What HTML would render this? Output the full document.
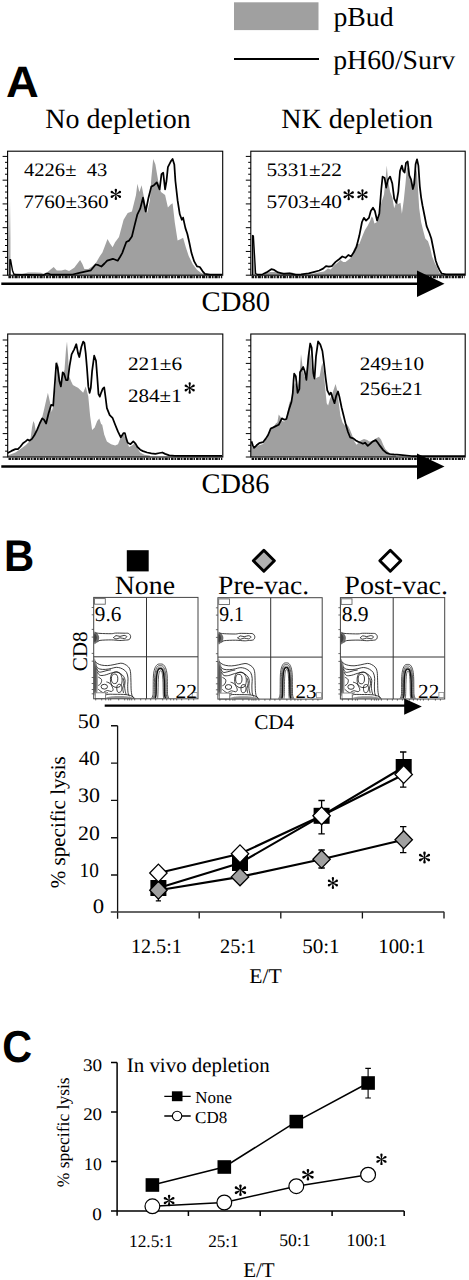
<!DOCTYPE html>
<html><head><meta charset="utf-8"><style>
html,body{margin:0;padding:0;background:#fff;width:469px;height:1280px;overflow:hidden}
svg{display:block}
text{font-family:"Liberation Serif",serif;fill:#000;text-rendering:geometricPrecision}
text.sb{font-weight:bold}
text.lbl{font-family:"Liberation Sans",sans-serif;font-weight:bold;stroke:none}
</style></head><body>
<svg width="469" height="1280" viewBox="0 0 469 1280">
<rect width="469" height="1280" fill="#fff"/>
<rect x="234" y="2.3" width="84.5" height="27.8" fill="#a0a0a0"/>
<line x1="234" y1="59" x2="319" y2="59" stroke="#000" stroke-width="2"/>
<defs><linearGradient id="gs" x1="0" y1="0" x2="0" y2="1"><stop offset="0" stop-color="#a0a0a0" stop-opacity="0"/><stop offset="0.5" stop-color="#a0a0a0" stop-opacity="0.8"/><stop offset="1" stop-color="#a0a0a0"/></linearGradient></defs>
<rect x="8.2" y="200" width="2.3" height="75.2" fill="url(#gs)"/>
<polygon points="12.8,275.2 12.8,274.2 20,274.5 28,272.4 35,272.6 41,272.8 44.8,274.2 51.2,269.1 53.7,267 56.8,270.4 61.4,270.4 65.2,269.6 69.1,271.1 74.2,267.8 78,262.7 80.1,260.1 82.4,264 84.4,269.1 88.3,269.1 92.1,266.5 96,262.7 99.8,256.3 102.4,252.5 104.9,246.1 107.5,238.9 110,243.5 112.6,247.3 115.1,242.2 119,237.1 123.6,219.8 127.7,212.9 131.9,211.5 136,194.9 137.4,183.8 139.4,192.1 141.6,185.2 144.3,199 147.1,212.9 149.9,200.4 151.3,178.3 153.2,158.9 155.4,164.4 158.2,181 161,192.1 165.1,194.9 167.9,207.4 170.7,204.6 172.6,203.2 174.8,222.6 177.6,240.6 180.4,239.2 183.1,237.8 185.9,247.5 188.7,255.9 192.8,264.2 197,269.7 201.2,273.1 205.3,274.5 205.3,275.2" fill="#a0a0a0"/>
<polyline points="15,274.6 43.5,275 46,273.7 48.6,273.7 51.2,274.7 66.5,274.7 72.6,274.5 78.4,273.2 86.1,271.3 90.9,270.3 95.7,264.5 98.5,265.2 101.4,266.5 104.5,263.5 107.2,260.7 112.9,258.8 117.7,260.7 120,257 122.2,253.1 126.3,242 129.1,240.6 131.9,236.5 134.6,225.4 137.4,214.3 140.2,208.7 143,197.7 144.3,204.6 145.7,211.5 148.5,197.7 151.3,186.6 154,185.2 156.8,182.4 159.6,189.3 161.5,174.1 163.2,172.7 165.1,189.3 166.5,181 167.9,167.2 170.7,161.6 172.6,158.9 174.3,164.4 175.4,181 177.6,200.4 179.8,214.3 181.8,219.8 183.1,217.6 185.4,228.1 187.3,233.7 189.2,242 191.5,253.1 194.2,261.4 197,266.4 199.8,267 202.5,271.1 204.8,273.9 210,274.6 222,274.6" fill="none" stroke="#000" stroke-width="1.75" stroke-linejoin="round"/>
<polyline points="9.9,275 9.9,259.8 10.6,259.8 11.5,265 12.5,270.5 13.8,274 15.5,274.6" fill="none" stroke="#000" stroke-width="1.4" stroke-linejoin="round"/>
<polygon points="252.4,275 252.4,235.6 253.4,236 255.8,275" fill="#a0a0a0"/>
<polygon points="264,275.2 264,274.6 266.5,273 270,272 275,272 279,273.2 284,272.6 292,272.6 298,274.4 310,274.6 318.3,272.4 324.1,271.5 327.9,268.6 330.8,269.5 333.7,265.7 337.5,262.8 340.4,260 343.3,261.9 345.5,261.9 351,257.8 353.8,249.5 356.5,244 359.3,244 362,237.1 364.8,230.3 367.5,226.1 370.3,220.6 371.6,216.5 373,217.9 374.4,223.4 377.1,222 379.3,215.1 381.3,202.8 384,194.5 385.4,180.8 386.8,165.6 388.1,180.8 390.1,191.8 392.3,197.3 394.2,208.3 396.4,201.4 398.3,204.1 400.5,202.8 401.9,213.8 403.8,200 405.5,183.5 406.8,168.4 408.2,167 410.1,178 412.1,186.3 414.3,176.6 415.6,167 417,172.5 419.2,208.3 421.1,222 423.1,230.3 425.3,238.5 428,241.3 430.2,248.1 432.1,256.4 434.9,263.3 437.6,268.8 439.6,272.9 441.8,274.3 441.8,275.2" fill="#a0a0a0"/>
<polyline points="257,274.6 262.7,274.3 266.5,272.4 271.3,269.2 274.2,269.9 278,272.4 283.8,273.8 289.5,273.4 295.3,274.7 301.1,274.3 308.7,273.4 314.5,271.8 319.3,270.5 323.1,268.6 326,266.1 328.9,266.7 331.8,266.1 335.6,261.9 339.4,259 342.3,256.5 345.5,257.8 348.3,255 351,256.4 353.8,252.3 356.5,246.8 359.3,235.8 362,222 363.9,217.9 366.1,220.6 368.9,217.9 370.8,211 373,207.7 374.9,211 377.1,220.6 379.3,213.8 381.3,189 382.6,176.6 384.6,178 386.2,187.6 388.1,179.4 390.1,176.6 392.3,183.5 394.2,198.6 396.4,202.8 398.3,191.8 400,171.1 401.9,165.6 403.3,171.1 404.6,172.5 406,162.9 407.7,161.5 409.3,175.3 411,179.4 412.9,189 414.3,183.5 415.6,164.3 417,159.3 418.4,165.6 419.8,186.3 421.1,197.3 422.5,205.5 424.7,216.5 426.6,226.1 429.4,233 431.3,238.5 433.5,249.5 435.7,260.5 437.6,266 439.6,270.1 441.8,273.7 446,274.4 465,274.4" fill="none" stroke="#000" stroke-width="1.75" stroke-linejoin="round"/>
<polyline points="252.5,275 252.5,235.5 253.4,235.8 255.6,273.4 257.2,274.6" fill="none" stroke="#000" stroke-width="1.3" stroke-linejoin="round"/>
<polygon points="7.7,457 7.7,455.5 15.4,452.4 20.5,449.1 25.6,445.3 29.4,441.4 30.7,437.6 32,427.4 33.3,421 34.5,423.5 35.8,431.2 38.4,427.4 40.9,422.2 43.5,412 46.1,400.5 47.9,392.8 49.9,401.8 51.7,412 53.7,404.3 55.8,383.9 57.6,360.8 58.9,369.8 60.1,381.3 61.4,383.9 63.2,373.6 64.5,369.8 66,349.3 67,341.6 68.1,355.7 69.1,376.2 71.1,381.3 72.9,385.1 75.5,386.4 78,387.7 80.6,390.3 83.2,392.8 85.7,386.4 88.3,396.6 90.1,415.8 92.1,429.9 94.7,427.4 97.2,421 99.3,418.4 101.1,424 102.2,424.8 104.2,434.5 106.9,441.4 111.1,444.2 115.2,445.6 118,444.2 120.8,437.3 123.6,434.5 126.3,440 129.1,447 131.9,445.6 134.6,443.6 137.4,448.3 140.2,452.5 144.3,454.7 149.9,455.6 149.9,457" fill="#a0a0a0"/>
<polyline points="7.7,452.9 11.5,450.9 15.4,449.1 17.9,449.1 20.5,446.5 23,443.2 25.6,441.4 27.6,439.6 29.4,440.7 32,438.9 34.5,435 37.1,429.9 39.7,423.5 42.2,418.4 44,419.7 46.1,423.5 48.6,413.3 51.2,404.8 53.2,405.6 55,381.3 56.3,363.4 57.6,367.2 59.4,381.3 60.9,386.4 62.7,372.3 64,373.6 66,380 67.8,380 69.6,365.9 71.6,354.4 74.2,349.3 76.3,344.2 78,353.1 79.3,357 81.4,346.8 83.2,341.6 84.4,342.9 85.7,353.1 87,368.5 88.3,386.4 89.6,392.8 90.8,387.7 92.1,371.1 94.2,355.7 96,360.8 97.2,376.2 98.5,394.1 99.8,396.6 101.1,392.8 102.8,388.7 104.2,387.4 105.5,397 106.9,408.1 109.7,415.1 112.5,417.8 115.2,424.8 118,431.7 120.8,437.3 123.6,433.1 124.9,433.1 126.3,438.6 127.7,442.8 130.5,444.2 133.3,441.4 135.5,443.6 137.4,447 140.2,449.7 143,451.1 147.1,452.5 151.3,453.3 155.4,453.9 159.6,453 162.4,452.5 165.1,453.9 169.3,455.3 174.8,455.8 222,455.8" fill="none" stroke="#000" stroke-width="1.75" stroke-linejoin="round"/>
<polygon points="250.7,457 250.7,437.6 252.8,447.8 255.4,446.5 259.2,445.3 263,444 265.6,440.1 268.1,435 270.7,429.9 273.3,427.4 275.8,423.5 277.4,422.2 278.7,414.5 280.6,417.1 281.9,421 284.4,421.5 286.4,418.4 289,404.3 290.2,400.5 291.5,403 292.5,392.8 295,382.6 297.6,387.7 299.4,377.5 301,354 302.6,367 304.3,376.6 306,377.6 307.5,360.6 309,350 310.7,356.3 312.4,373.4 313.9,379.8 317.1,377.6 319.6,376.6 321.3,367 322.4,362.7 323.9,372.3 325.2,388.3 326.7,403.2 328.1,405.4 329.9,399 332,394.7 334.1,388.3 335.6,384 337.3,390.4 338.8,403.2 340.5,416 342.6,422.4 344.8,425.6 346.9,424.6 348.6,426.7 350.1,429.9 352.2,435.2 354.4,441.6 356.5,444.8 358.6,442.7 360.8,440.5 364,439.1 367.2,439.9 369.3,441.6 372.5,441.2 375.7,438.4 378.9,436.9 381,439.5 383.2,444.8 385.3,449.1 388.5,452.3 391.7,454 396,455.6 396,457" fill="#a0a0a0"/>
<polyline points="251.5,441.4 252.8,445.3 254.1,447.8 256.6,445.3 259.2,443.2 263,442.2 265.6,438.9 268.1,435 270.7,428.6 273.3,427.4 275.8,426.1 278.7,424.8 281.9,418.4 284.4,419.7 286.4,419 289,409.4 291.5,401.7 292.8,392.8 293.6,380 294.2,373.6 295.8,376.2 297.6,392.8 299.4,389 300,372.3 303.2,367 304.7,371.2 306.4,379.8 308.5,356.3 310.2,343.5 311.7,347.8 313.2,373.4 314.5,378.7 316,356.3 318.1,341.4 320.3,344.6 322.4,351 323.9,362.7 325.6,377.6 327.3,390.4 329.4,394.7 330.9,392.6 333,399 334.5,403.2 336.2,395.8 338,391.5 339.4,396.8 341.6,407.5 343.7,416 345.8,424.6 348,432 350.1,437.3 353.3,438.4 355.9,440.5 358,441.6 360.8,442.7 362.9,443.7 365,442.7 367.8,445.9 370.4,443.7 372.5,441.6 375.7,440.1 377.8,442.7 380,445.9 383.2,450.1 386.4,452.9 389.6,454 393.8,454.4 400,454.8 411.5,456 465,456" fill="none" stroke="#000" stroke-width="1.75" stroke-linejoin="round"/>
<path d="M2.6,275.2h5M5,269.26h2.6M5,263.32h2.6M5,257.38h2.6M2.6,251.44h5M5,245.5h2.6M5,239.56h2.6M5,233.62h2.6M2.6,227.68h5M5,221.74h2.6M5,215.8h2.6M5,209.86h2.6M2.6,203.92h5M5,197.98h2.6M5,192.04h2.6M5,186.1h2.6M2.6,180.16h5M5,174.22h2.6M5,168.28h2.6M5,162.34h2.6M2.6,156.4h5" stroke="#000" stroke-width="1" fill="none"/>
<line x1="8.4" y1="277" x2="222.2" y2="277" stroke="#111" stroke-width="2.3" stroke-dasharray="2.6 0.8 1.8 0.9 3.2 0.7 1.5 1"/>
<rect x="7.6" y="151.2" width="215.1" height="124" fill="none" stroke="#000" stroke-width="1.1"/>
<path d="M245.8,275.2h5M248.2,269.26h2.6M248.2,263.32h2.6M248.2,257.38h2.6M245.8,251.44h5M248.2,245.5h2.6M248.2,239.56h2.6M248.2,233.62h2.6M245.8,227.68h5M248.2,221.74h2.6M248.2,215.8h2.6M248.2,209.86h2.6M245.8,203.92h5M248.2,197.98h2.6M248.2,192.04h2.6M248.2,186.1h2.6M245.8,180.16h5M248.2,174.22h2.6M248.2,168.28h2.6M248.2,162.34h2.6M245.8,156.4h5" stroke="#000" stroke-width="1" fill="none"/>
<line x1="251.6" y1="277" x2="464.7" y2="277" stroke="#111" stroke-width="2.3" stroke-dasharray="2.6 0.8 1.8 0.9 3.2 0.7 1.5 1"/>
<rect x="250.8" y="151.2" width="214.4" height="124" fill="none" stroke="#000" stroke-width="1.1"/>
<path d="M2.7,457h5M5.1,451.15h2.6M5.1,445.3h2.6M5.1,439.45h2.6M2.7,433.6h5M5.1,427.75h2.6M5.1,421.9h2.6M5.1,416.05h2.6M2.7,410.2h5M5.1,404.35h2.6M5.1,398.5h2.6M5.1,392.65h2.6M2.7,386.8h5M5.1,380.95h2.6M5.1,375.1h2.6M5.1,369.25h2.6M2.7,363.4h5M5.1,357.55h2.6M5.1,351.7h2.6M5.1,345.85h2.6M2.7,340h5" stroke="#000" stroke-width="1" fill="none"/>
<line x1="8.5" y1="458.8" x2="222.3" y2="458.8" stroke="#111" stroke-width="2.3" stroke-dasharray="2.6 0.8 1.8 0.9 3.2 0.7 1.5 1"/>
<rect x="7.7" y="334" width="215.1" height="123" fill="none" stroke="#000" stroke-width="1.1"/>
<path d="M245.8,457h5M248.2,451.15h2.6M248.2,445.3h2.6M248.2,439.45h2.6M245.8,433.6h5M248.2,427.75h2.6M248.2,421.9h2.6M248.2,416.05h2.6M245.8,410.2h5M248.2,404.35h2.6M248.2,398.5h2.6M248.2,392.65h2.6M245.8,386.8h5M248.2,380.95h2.6M248.2,375.1h2.6M248.2,369.25h2.6M245.8,363.4h5M248.2,357.55h2.6M248.2,351.7h2.6M248.2,345.85h2.6M245.8,340h5" stroke="#000" stroke-width="1" fill="none"/>
<line x1="251.6" y1="458.8" x2="464.7" y2="458.8" stroke="#111" stroke-width="2.3" stroke-dasharray="2.6 0.8 1.8 0.9 3.2 0.7 1.5 1"/>
<rect x="250.8" y="334" width="214.4" height="123" fill="none" stroke="#000" stroke-width="1.1"/>
<line x1="1.3" y1="283.8" x2="419" y2="283.8" stroke="#000" stroke-width="2.6"/><polygon points="417,270.55 444.5,283.8 417,297.05" fill="#000"/>
<line x1="1.3" y1="466.5" x2="419" y2="466.5" stroke="#000" stroke-width="2.6"/><polygon points="417,453.5 444.5,466.5 417,479.5" fill="#000"/>
<g transform="translate(0,0)">
<path d="M94.3,632.3C94.63,630.52 95.62,632.35 96.3,632.8C96.98,633.25 97.92,634.17 98.4,635C98.88,635.83 99.22,636.8 99.2,637.8C99.18,638.8 98.8,640.13 98.3,641C97.8,641.87 96.87,642.58 96.2,643C95.53,643.42 94.62,645.28 94.3,643.5C93.98,641.72 93.97,634.08 94.3,632.3Z" fill="#555" opacity="0.85"/>
<path d="M94.3,634C94.55,632.83 95.38,634.17 95.8,634.8C96.22,635.43 96.8,636.77 96.8,637.8C96.8,638.83 96.22,640.33 95.8,641C95.38,641.67 94.55,642.97 94.3,641.8C94.05,640.63 94.05,635.17 94.3,634Z" fill="#222" opacity="0.6"/>
<path d="M94.3,660.5C94.55,655.25 95.3,660.92 95.8,662C96.3,663.08 96.97,664 97.3,667C97.63,670 97.8,675.83 97.8,680C97.8,684.17 97.88,689.75 97.3,692C96.72,694.25 94.8,698.75 94.3,693.5C93.8,688.25 94.05,665.75 94.3,660.5Z" fill="#666" opacity="0.75"/>
<path d="M94.3,663C94.47,658.58 94.98,663.33 95.3,664.5C95.62,665.67 96.02,667.42 96.2,670C96.38,672.58 96.43,676.67 96.4,680C96.37,683.33 96.35,688.17 96,690C95.65,691.83 94.58,695.5 94.3,691C94.02,686.5 94.13,667.42 94.3,663Z" fill="#333" opacity="0.6"/>
<path d="M95.5,632.8C96.25,632.9 97.37,633.25 100,633.4C102.63,633.55 108.7,633.75 111.3,633.7C113.9,633.65 113.48,633.18 115.6,633.1C117.72,633.02 121.83,633.13 124,633.2C126.17,633.27 127.5,632.98 128.6,633.5C129.7,634.02 130.5,635.3 130.6,636.3C130.7,637.3 130.3,638.85 129.2,639.5C128.1,640.15 125.55,640.03 124,640.2C122.45,640.37 122.02,640.55 119.9,640.5C117.78,640.45 114.62,639.92 111.3,639.9C107.98,639.88 102.3,640.02 100,640.4C97.7,640.78 97.92,641.9 97.5,642.2" fill="none" stroke="#1a1a1a" stroke-width="0.85"/>
<path d="M113.6,637.6C114,637.27 114.93,635.8 116,635.6C117.07,635.4 118.67,636.43 120,636.4C121.33,636.37 122.87,635.37 124,635.4C125.13,635.43 126.72,636.07 126.8,636.6C126.88,637.13 125.63,638.4 124.5,638.6C123.37,638.8 121.42,637.73 120,637.8C118.58,637.87 117.07,639.03 116,639C114.93,638.97 114,637.83 113.6,637.6C113.2,637.37 113.2,637.93 113.6,637.6Z" fill="none" stroke="#1a1a1a" stroke-width="0.85"/>
<path d="M94.9,661.3C95.38,661.7 96.68,663.07 97.8,663.7C98.92,664.33 100,664.78 101.6,665.1C103.2,665.42 105.32,665.68 107.4,665.6C109.48,665.52 111.87,665 114.1,664.6C116.33,664.2 119.05,663.27 120.8,663.2C122.55,663.13 123.32,663.57 124.6,664.2C125.88,664.83 127.53,665.8 128.5,667C129.47,668.2 130,669.23 130.4,671.4C130.8,673.57 130.77,676.82 130.9,680C131.03,683.18 130.97,687.78 131.2,690.5C131.43,693.22 131.8,695.02 132.3,696.3C132.8,697.58 133.88,697.88 134.2,698.2" fill="none" stroke="#1a1a1a" stroke-width="0.85"/>
<path d="M96.3,666.6C96.87,667 98.18,668.53 99.7,669C101.22,669.47 103.48,669.48 105.4,669.4C107.32,669.32 109.6,668.82 111.2,668.5C112.8,668.18 113.8,667.67 115,667.5C116.2,667.33 117.12,667.25 118.4,667.5C119.68,667.75 121.35,668.2 122.7,669C124.05,669.8 125.62,670.78 126.5,672.3C127.38,673.82 127.8,676.02 128,678.1C128.2,680.18 127.7,682.4 127.7,684.8C127.7,687.2 127.72,690.58 128,692.5C128.28,694.42 129.17,695.67 129.4,696.3" fill="none" stroke="#1a1a1a" stroke-width="0.85"/>
<path d="M97.3,671.8C97.7,672.37 98.5,674.63 99.7,675.2C100.9,675.77 102.98,675.43 104.5,675.2C106.02,674.97 107.52,674.2 108.8,673.8C110.08,673.4 110.83,673.13 112.2,672.8C113.57,672.47 115.57,671.63 117,671.8C118.43,671.97 119.68,673 120.8,673.8C121.92,674.6 122.98,675.48 123.7,676.6C124.42,677.72 124.95,678.97 125.1,680.5C125.25,682.03 124.6,684.13 124.6,685.8C124.6,687.47 124.85,689.07 125.1,690.5C125.35,691.93 125.93,693.75 126.1,694.4" fill="none" stroke="#1a1a1a" stroke-width="0.85"/>
<path d="M110.5,678C110.72,676.17 111.25,673.93 112.5,673C113.75,672.07 116.5,671.9 118,672.4C119.5,672.9 120.83,674.4 121.5,676C122.17,677.6 122.25,680.25 122,682C121.75,683.75 121.17,685.63 120,686.5C118.83,687.37 116.47,687.62 115,687.2C113.53,686.78 111.95,685.53 111.2,684C110.45,682.47 110.28,679.83 110.5,678Z" fill="none" stroke="#1a1a1a" stroke-width="0.85"/>
<ellipse cx="114.6" cy="678.8" rx="3.2" ry="4.8" fill="none" stroke="#1a1a1a" stroke-width="0.85"/>
<ellipse cx="104.3" cy="686.7" rx="3.2" ry="2.4" fill="none" stroke="#1a1a1a" stroke-width="0.85"/>
<path d="M106.4,681.9C106.83,682.05 108.2,682.32 109,682.8C109.8,683.28 110.52,683.67 111.2,684.8C111.88,685.93 113.1,688.48 113.1,689.6C113.1,690.72 112.15,691.35 111.2,691.5C110.25,691.65 108.6,690.42 107.4,690.5C106.2,690.58 104.57,691.75 104,692" fill="none" stroke="#1a1a1a" stroke-width="0.85"/>
<path d="M117.5,685C118.12,684.25 119.78,684.08 120.5,684.5C121.22,684.92 121.72,686.33 121.8,687.5C121.88,688.67 121.63,690.7 121,691.5C120.37,692.3 118.7,692.72 118,692.3C117.3,691.88 116.88,690.22 116.8,689C116.72,687.78 116.88,685.75 117.5,685Z" fill="none" stroke="#1a1a1a" stroke-width="0.85"/>
<path d="M98.2,677C98.75,677.42 101.07,678.42 101.5,679.5C101.93,680.58 101.35,682.5 100.8,683.5C100.25,684.5 98.63,685.17 98.2,685.5" fill="none" stroke="#1a1a1a" stroke-width="0.85"/>
<path d="M96.5,668.5C96.92,669.08 97.92,671.48 99,672C100.08,672.52 101.67,671.85 103,671.6C104.33,671.35 105.67,670.8 107,670.5C108.33,670.2 110.33,669.92 111,669.8" fill="none" stroke="#1a1a1a" stroke-width="0.85"/>
<path d="M98,689C98.5,689.42 99.92,690.8 101,691.5C102.08,692.2 103.33,693.02 104.5,693.2C105.67,693.38 107.42,692.7 108,692.6" fill="none" stroke="#1a1a1a" stroke-width="0.85"/>
<path d="M123,678C123.17,678.83 124.03,681.33 124,683C123.97,684.67 122.88,686.33 122.8,688C122.72,689.67 123.38,692.17 123.5,693" fill="none" stroke="#1a1a1a" stroke-width="0.85"/>
<path d="M105.4,698.4C105.58,697.77 104.9,695.28 106.5,694.6C108.1,693.92 111.75,694.3 115,694.3C118.25,694.3 123.17,694.28 126,694.6C128.83,694.92 130.57,695.58 132,696.2C133.43,696.82 134.17,697.95 134.6,698.3" fill="none" stroke="#1a1a1a" stroke-width="0.85"/>
<path d="M107,698.4C103.42,698.05 108.83,696.67 112,696.3C115.17,695.93 122.42,695.85 126,696.2C129.58,696.55 136.67,698.03 133.5,698.4C130.33,698.77 110.58,698.75 107,698.4Z" fill="#555" opacity="0.6"/>
<rect x="95.3" y="692.8" width="10.2" height="5.9" fill="#fff" stroke="#777" stroke-width="0.8"/>
<path d="M151.7,698.3C151.92,697.72 152.75,696.63 153,694.8C153.25,692.97 153.13,690.43 153.2,687.3C153.27,684.17 153.18,679.05 153.41,676C153.65,672.95 154,670.87 154.62,669C155.24,667.13 156.16,665.63 157.11,664.8C158.05,663.97 159.24,664 160.3,664C161.37,664 162.55,663.97 163.5,664.8C164.44,665.63 165.36,667.13 165.98,669C166.6,670.87 166.95,672.95 167.19,676C167.42,679.05 167.33,684.17 167.4,687.3C167.47,690.43 167.35,692.97 167.6,694.8C167.85,696.63 168.68,697.72 168.9,698.3" fill="none" stroke="#222" stroke-width="0.8"/>
<path d="M152.9,698.3C153.12,697.72 153.95,696.63 154.2,694.8C154.45,692.97 154.34,690.17 154.4,687.3C154.46,684.43 154.38,680.38 154.58,677.6C154.77,674.82 155.07,672.47 155.58,670.6C156.09,668.73 156.86,667.23 157.65,666.4C158.43,665.57 159.42,665.6 160.3,665.6C161.19,665.6 162.17,665.57 162.96,666.4C163.74,667.23 164.51,668.73 165.02,670.6C165.53,672.47 165.83,674.82 166.02,677.6C166.22,680.38 166.14,684.43 166.2,687.3C166.26,690.17 166.15,692.97 166.4,694.8C166.65,696.63 167.48,697.72 167.7,698.3" fill="none" stroke="#333" stroke-width="0.8"/>
<path d="M153.8,698.3C154.02,697.72 154.85,696.63 155.1,694.8C155.35,692.97 155.24,689.9 155.3,687.3C155.36,684.7 155.28,681.72 155.45,679.2C155.62,676.68 155.87,674.07 156.3,672.2C156.73,670.33 157.38,668.83 158.05,668C158.72,667.17 159.55,667.2 160.3,667.2C161.05,667.2 161.88,667.17 162.55,668C163.22,668.83 163.87,670.33 164.3,672.2C164.73,674.07 164.98,676.68 165.15,679.2C165.32,681.72 165.24,684.7 165.3,687.3C165.36,689.9 165.25,692.97 165.5,694.8C165.75,696.63 166.58,697.72 166.8,698.3" fill="none" stroke="#444" stroke-width="0.7"/>
<path d="M155.2,698.3C155.33,697.72 155.83,696.63 156,694.8C156.17,692.97 156.15,689.67 156.2,687.3C156.25,684.93 156.19,682.88 156.32,680.6C156.46,678.32 156.66,675.47 157.02,673.6C157.38,671.73 157.91,670.23 158.46,669.4C159,668.57 159.69,668.6 160.3,668.6C160.92,668.6 161.6,668.57 162.15,669.4C162.69,670.23 163.22,671.73 163.58,673.6C163.94,675.47 164.14,678.32 164.28,680.6C164.41,682.88 164.35,684.93 164.4,687.3C164.45,689.67 164.43,692.97 164.6,694.8C164.77,696.63 165.27,697.72 165.4,698.3" fill="none" stroke="#111" stroke-width="1.5"/>
<path d="M157.6,698.3C157.65,697.72 157.82,696.63 157.9,694.8C157.98,692.97 158.05,689.3 158.1,687.3C158.15,685.3 158.09,684.72 158.18,682.8C158.26,680.88 158.38,677.67 158.6,675.8C158.82,673.93 159.14,672.43 159.48,671.6C159.81,670.77 160.23,670.8 160.6,670.8C160.98,670.8 161.39,670.77 161.73,671.6C162.06,672.43 162.38,673.93 162.6,675.8C162.82,677.67 162.94,680.88 163.03,682.8C163.11,684.72 163.05,685.3 163.1,687.3C163.15,689.3 163.22,692.97 163.3,694.8C163.38,696.63 163.55,697.72 163.6,698.3" fill="none" stroke="#333" stroke-width="0.8"/>
</g>
<path d="M146.5,597.4v101.4 M93.7,656.8h104.3" stroke="#333" stroke-width="1" fill="none"/>
<rect x="93.7" y="597.4" width="104.3" height="101.4" fill="none" stroke="#444" stroke-width="1"/>
<rect x="94.5" y="598.6" width="10.8" height="5.6" fill="#fff" stroke="#666" stroke-width="0.9"/>
<rect x="192.2" y="692.4" width="5" height="5" fill="#fff" stroke="#888" stroke-width="0.8"/>
<path d="M91.7,607.5h2M91.7,614.8h2M91.7,629.4h2M91.7,637.1h2M91.7,653.4h2M91.7,661.2h2M91.7,677.5h2M91.7,683.5h2M91.7,689.5h2M91.7,693.8h2M95.7,698.8v1.6M101.7,698.8v1.6M105.7,698.8v1.6M108.7,698.8v1.6M110.7,698.8v1.6M118.7,698.8v1.6M124.7,698.8v1.6M127.7,698.8v1.6M129.7,698.8v1.6M131.7,698.8v1.6M134.7,698.8v1.6M140.7,698.8v1.6M145.7,698.8v1.6M150.7,698.8v1.6M155.7,698.8v1.6M162.7,698.8v1.6M166.7,698.8v1.6M170.7,698.8v1.6M173.7,698.8v1.6M176.7,698.8v1.6M181.7,698.8v1.6M188.7,698.8v1.6M193.7,698.8v1.6" stroke="#444" stroke-width="0.8" fill="none"/>
<g transform="translate(124.2,0.3)">
<path d="M94.3,632.3C94.63,630.52 95.62,632.35 96.3,632.8C96.98,633.25 97.92,634.17 98.4,635C98.88,635.83 99.22,636.8 99.2,637.8C99.18,638.8 98.8,640.13 98.3,641C97.8,641.87 96.87,642.58 96.2,643C95.53,643.42 94.62,645.28 94.3,643.5C93.98,641.72 93.97,634.08 94.3,632.3Z" fill="#555" opacity="0.85"/>
<path d="M94.3,634C94.55,632.83 95.38,634.17 95.8,634.8C96.22,635.43 96.8,636.77 96.8,637.8C96.8,638.83 96.22,640.33 95.8,641C95.38,641.67 94.55,642.97 94.3,641.8C94.05,640.63 94.05,635.17 94.3,634Z" fill="#222" opacity="0.6"/>
<path d="M94.3,660.5C94.55,655.25 95.3,660.92 95.8,662C96.3,663.08 96.97,664 97.3,667C97.63,670 97.8,675.83 97.8,680C97.8,684.17 97.88,689.75 97.3,692C96.72,694.25 94.8,698.75 94.3,693.5C93.8,688.25 94.05,665.75 94.3,660.5Z" fill="#666" opacity="0.75"/>
<path d="M94.3,663C94.47,658.58 94.98,663.33 95.3,664.5C95.62,665.67 96.02,667.42 96.2,670C96.38,672.58 96.43,676.67 96.4,680C96.37,683.33 96.35,688.17 96,690C95.65,691.83 94.58,695.5 94.3,691C94.02,686.5 94.13,667.42 94.3,663Z" fill="#333" opacity="0.6"/>
<path d="M95.5,632.8C96.25,632.9 97.37,633.25 100,633.4C102.63,633.55 108.7,633.75 111.3,633.7C113.9,633.65 113.48,633.18 115.6,633.1C117.72,633.02 121.83,633.13 124,633.2C126.17,633.27 127.5,632.98 128.6,633.5C129.7,634.02 130.5,635.3 130.6,636.3C130.7,637.3 130.3,638.85 129.2,639.5C128.1,640.15 125.55,640.03 124,640.2C122.45,640.37 122.02,640.55 119.9,640.5C117.78,640.45 114.62,639.92 111.3,639.9C107.98,639.88 102.3,640.02 100,640.4C97.7,640.78 97.92,641.9 97.5,642.2" fill="none" stroke="#1a1a1a" stroke-width="0.85"/>
<path d="M113.6,637.6C114,637.27 114.93,635.8 116,635.6C117.07,635.4 118.67,636.43 120,636.4C121.33,636.37 122.87,635.37 124,635.4C125.13,635.43 126.72,636.07 126.8,636.6C126.88,637.13 125.63,638.4 124.5,638.6C123.37,638.8 121.42,637.73 120,637.8C118.58,637.87 117.07,639.03 116,639C114.93,638.97 114,637.83 113.6,637.6C113.2,637.37 113.2,637.93 113.6,637.6Z" fill="none" stroke="#1a1a1a" stroke-width="0.85"/>
<path d="M94.9,661.3C95.38,661.7 96.68,663.07 97.8,663.7C98.92,664.33 100,664.78 101.6,665.1C103.2,665.42 105.32,665.68 107.4,665.6C109.48,665.52 111.87,665 114.1,664.6C116.33,664.2 119.05,663.27 120.8,663.2C122.55,663.13 123.32,663.57 124.6,664.2C125.88,664.83 127.53,665.8 128.5,667C129.47,668.2 130,669.23 130.4,671.4C130.8,673.57 130.77,676.82 130.9,680C131.03,683.18 130.97,687.78 131.2,690.5C131.43,693.22 131.8,695.02 132.3,696.3C132.8,697.58 133.88,697.88 134.2,698.2" fill="none" stroke="#1a1a1a" stroke-width="0.85"/>
<path d="M96.3,666.6C96.87,667 98.18,668.53 99.7,669C101.22,669.47 103.48,669.48 105.4,669.4C107.32,669.32 109.6,668.82 111.2,668.5C112.8,668.18 113.8,667.67 115,667.5C116.2,667.33 117.12,667.25 118.4,667.5C119.68,667.75 121.35,668.2 122.7,669C124.05,669.8 125.62,670.78 126.5,672.3C127.38,673.82 127.8,676.02 128,678.1C128.2,680.18 127.7,682.4 127.7,684.8C127.7,687.2 127.72,690.58 128,692.5C128.28,694.42 129.17,695.67 129.4,696.3" fill="none" stroke="#1a1a1a" stroke-width="0.85"/>
<path d="M97.3,671.8C97.7,672.37 98.5,674.63 99.7,675.2C100.9,675.77 102.98,675.43 104.5,675.2C106.02,674.97 107.52,674.2 108.8,673.8C110.08,673.4 110.83,673.13 112.2,672.8C113.57,672.47 115.57,671.63 117,671.8C118.43,671.97 119.68,673 120.8,673.8C121.92,674.6 122.98,675.48 123.7,676.6C124.42,677.72 124.95,678.97 125.1,680.5C125.25,682.03 124.6,684.13 124.6,685.8C124.6,687.47 124.85,689.07 125.1,690.5C125.35,691.93 125.93,693.75 126.1,694.4" fill="none" stroke="#1a1a1a" stroke-width="0.85"/>
<path d="M110.5,678C110.72,676.17 111.25,673.93 112.5,673C113.75,672.07 116.5,671.9 118,672.4C119.5,672.9 120.83,674.4 121.5,676C122.17,677.6 122.25,680.25 122,682C121.75,683.75 121.17,685.63 120,686.5C118.83,687.37 116.47,687.62 115,687.2C113.53,686.78 111.95,685.53 111.2,684C110.45,682.47 110.28,679.83 110.5,678Z" fill="none" stroke="#1a1a1a" stroke-width="0.85"/>
<ellipse cx="114.6" cy="678.8" rx="3.2" ry="4.8" fill="none" stroke="#1a1a1a" stroke-width="0.85"/>
<ellipse cx="104.3" cy="686.7" rx="3.2" ry="2.4" fill="none" stroke="#1a1a1a" stroke-width="0.85"/>
<path d="M106.4,681.9C106.83,682.05 108.2,682.32 109,682.8C109.8,683.28 110.52,683.67 111.2,684.8C111.88,685.93 113.1,688.48 113.1,689.6C113.1,690.72 112.15,691.35 111.2,691.5C110.25,691.65 108.6,690.42 107.4,690.5C106.2,690.58 104.57,691.75 104,692" fill="none" stroke="#1a1a1a" stroke-width="0.85"/>
<path d="M117.5,685C118.12,684.25 119.78,684.08 120.5,684.5C121.22,684.92 121.72,686.33 121.8,687.5C121.88,688.67 121.63,690.7 121,691.5C120.37,692.3 118.7,692.72 118,692.3C117.3,691.88 116.88,690.22 116.8,689C116.72,687.78 116.88,685.75 117.5,685Z" fill="none" stroke="#1a1a1a" stroke-width="0.85"/>
<path d="M98.2,677C98.75,677.42 101.07,678.42 101.5,679.5C101.93,680.58 101.35,682.5 100.8,683.5C100.25,684.5 98.63,685.17 98.2,685.5" fill="none" stroke="#1a1a1a" stroke-width="0.85"/>
<path d="M96.5,668.5C96.92,669.08 97.92,671.48 99,672C100.08,672.52 101.67,671.85 103,671.6C104.33,671.35 105.67,670.8 107,670.5C108.33,670.2 110.33,669.92 111,669.8" fill="none" stroke="#1a1a1a" stroke-width="0.85"/>
<path d="M98,689C98.5,689.42 99.92,690.8 101,691.5C102.08,692.2 103.33,693.02 104.5,693.2C105.67,693.38 107.42,692.7 108,692.6" fill="none" stroke="#1a1a1a" stroke-width="0.85"/>
<path d="M123,678C123.17,678.83 124.03,681.33 124,683C123.97,684.67 122.88,686.33 122.8,688C122.72,689.67 123.38,692.17 123.5,693" fill="none" stroke="#1a1a1a" stroke-width="0.85"/>
<path d="M105.4,698.4C105.58,697.77 104.9,695.28 106.5,694.6C108.1,693.92 111.75,694.3 115,694.3C118.25,694.3 123.17,694.28 126,694.6C128.83,694.92 130.57,695.58 132,696.2C133.43,696.82 134.17,697.95 134.6,698.3" fill="none" stroke="#1a1a1a" stroke-width="0.85"/>
<path d="M107,698.4C103.42,698.05 108.83,696.67 112,696.3C115.17,695.93 122.42,695.85 126,696.2C129.58,696.55 136.67,698.03 133.5,698.4C130.33,698.77 110.58,698.75 107,698.4Z" fill="#555" opacity="0.6"/>
<rect x="95.3" y="692.8" width="10.2" height="5.9" fill="#fff" stroke="#777" stroke-width="0.8"/>
<path d="M154.49,698.3C154.71,697.72 155.54,696.63 155.79,694.8C156.04,692.97 155.93,690.67 155.99,687.3C156.06,683.93 155.97,677.88 156.18,674.6C156.38,671.32 156.69,669.47 157.22,667.6C157.74,665.73 158.54,664.23 159.35,663.4C160.17,662.57 161.18,662.6 162.1,662.6C163.02,662.6 164.03,662.57 164.85,663.4C165.66,664.23 166.46,665.73 166.98,667.6C167.51,669.47 167.82,671.32 168.02,674.6C168.23,677.88 168.14,683.93 168.21,687.3C168.27,690.67 168.16,692.97 168.41,694.8C168.66,696.63 169.49,697.72 169.71,698.3" fill="none" stroke="#222" stroke-width="0.8"/>
<path d="M155.53,698.3C155.74,697.72 156.58,696.63 156.83,694.8C157.08,692.97 156.97,690.4 157.03,687.3C157.08,684.2 157.01,679.22 157.18,676.2C157.35,673.18 157.6,671.07 158.04,669.2C158.48,667.33 159.14,665.83 159.82,665C160.49,664.17 161.34,664.2 162.1,664.2C162.86,664.2 163.71,664.17 164.38,665C165.06,665.83 165.72,667.33 166.16,669.2C166.6,671.07 166.85,673.18 167.02,676.2C167.19,679.22 167.12,684.2 167.17,687.3C167.23,690.4 167.12,692.97 167.37,694.8C167.62,696.63 168.46,697.72 168.67,698.3" fill="none" stroke="#333" stroke-width="0.8"/>
<path d="M156.3,698.3C156.52,697.72 157.35,696.63 157.6,694.8C157.85,692.97 157.75,690.13 157.8,687.3C157.85,684.47 157.79,680.55 157.93,677.8C158.07,675.05 158.29,672.67 158.66,670.8C159.03,668.93 159.59,667.43 160.16,666.6C160.74,665.77 161.45,665.8 162.1,665.8C162.75,665.8 163.46,665.77 164.03,666.6C164.61,667.43 165.17,668.93 165.54,670.8C165.91,672.67 166.13,675.05 166.27,677.8C166.41,680.55 166.35,684.47 166.4,687.3C166.45,690.13 166.35,692.97 166.6,694.8C166.85,696.63 167.68,697.72 167.9,698.3" fill="none" stroke="#444" stroke-width="0.7"/>
<path d="M157.57,698.3C157.71,697.72 158.21,696.63 158.37,694.8C158.54,692.97 158.52,689.9 158.57,687.3C158.62,684.7 158.56,681.72 158.68,679.2C158.8,676.68 158.97,674.07 159.28,672.2C159.58,670.33 160.04,668.83 160.51,668C160.98,667.17 161.57,667.2 162.1,667.2C162.63,667.2 163.22,667.17 163.69,668C164.16,668.83 164.62,670.33 164.92,672.2C165.23,674.07 165.4,676.68 165.52,679.2C165.64,681.72 165.58,684.7 165.63,687.3C165.68,689.9 165.66,692.97 165.83,694.8C165.99,696.63 166.49,697.72 166.63,698.3" fill="none" stroke="#111" stroke-width="1.5"/>
<path d="M159.75,698.3C159.8,697.72 159.97,696.63 160.05,694.8C160.13,692.97 160.21,689.53 160.25,687.3C160.29,685.07 160.24,683.55 160.31,681.4C160.39,679.25 160.49,676.27 160.68,674.4C160.87,672.53 161.15,671.03 161.43,670.2C161.72,669.37 162.08,669.4 162.4,669.4C162.72,669.4 163.08,669.37 163.37,670.2C163.65,671.03 163.93,672.53 164.12,674.4C164.31,676.27 164.41,679.25 164.49,681.4C164.56,683.55 164.51,685.07 164.55,687.3C164.59,689.53 164.67,692.97 164.75,694.8C164.83,696.63 165,697.72 165.05,698.3" fill="none" stroke="#333" stroke-width="0.8"/>
</g>
<path d="M270.7,597.7v101.4 M217.9,657.1h104.3" stroke="#333" stroke-width="1" fill="none"/>
<rect x="217.9" y="597.7" width="104.3" height="101.4" fill="none" stroke="#444" stroke-width="1"/>
<rect x="218.7" y="598.9" width="10.8" height="5.6" fill="#fff" stroke="#666" stroke-width="0.9"/>
<rect x="316.4" y="692.7" width="5" height="5" fill="#fff" stroke="#888" stroke-width="0.8"/>
<path d="M215.9,607.8h2M215.9,615.1h2M215.9,629.7h2M215.9,637.4h2M215.9,653.7h2M215.9,661.5h2M215.9,677.8h2M215.9,683.8h2M215.9,689.8h2M215.9,694.1h2M219.9,699.1v1.6M225.9,699.1v1.6M229.9,699.1v1.6M232.9,699.1v1.6M234.9,699.1v1.6M242.9,699.1v1.6M248.9,699.1v1.6M251.9,699.1v1.6M253.9,699.1v1.6M255.9,699.1v1.6M258.9,699.1v1.6M264.9,699.1v1.6M269.9,699.1v1.6M274.9,699.1v1.6M279.9,699.1v1.6M286.9,699.1v1.6M290.9,699.1v1.6M294.9,699.1v1.6M297.9,699.1v1.6M300.9,699.1v1.6M305.9,699.1v1.6M312.9,699.1v1.6M317.9,699.1v1.6" stroke="#444" stroke-width="0.8" fill="none"/>
<g transform="translate(246.7,0.2)">
<path d="M94.3,632.3C94.63,630.52 95.62,632.35 96.3,632.8C96.98,633.25 97.92,634.17 98.4,635C98.88,635.83 99.22,636.8 99.2,637.8C99.18,638.8 98.8,640.13 98.3,641C97.8,641.87 96.87,642.58 96.2,643C95.53,643.42 94.62,645.28 94.3,643.5C93.98,641.72 93.97,634.08 94.3,632.3Z" fill="#555" opacity="0.85"/>
<path d="M94.3,634C94.55,632.83 95.38,634.17 95.8,634.8C96.22,635.43 96.8,636.77 96.8,637.8C96.8,638.83 96.22,640.33 95.8,641C95.38,641.67 94.55,642.97 94.3,641.8C94.05,640.63 94.05,635.17 94.3,634Z" fill="#222" opacity="0.6"/>
<path d="M94.3,660.5C94.55,655.25 95.3,660.92 95.8,662C96.3,663.08 96.97,664 97.3,667C97.63,670 97.8,675.83 97.8,680C97.8,684.17 97.88,689.75 97.3,692C96.72,694.25 94.8,698.75 94.3,693.5C93.8,688.25 94.05,665.75 94.3,660.5Z" fill="#666" opacity="0.75"/>
<path d="M94.3,663C94.47,658.58 94.98,663.33 95.3,664.5C95.62,665.67 96.02,667.42 96.2,670C96.38,672.58 96.43,676.67 96.4,680C96.37,683.33 96.35,688.17 96,690C95.65,691.83 94.58,695.5 94.3,691C94.02,686.5 94.13,667.42 94.3,663Z" fill="#333" opacity="0.6"/>
<path d="M95.5,632.8C96.25,632.9 97.37,633.25 100,633.4C102.63,633.55 108.7,633.75 111.3,633.7C113.9,633.65 113.48,633.18 115.6,633.1C117.72,633.02 121.83,633.13 124,633.2C126.17,633.27 127.5,632.98 128.6,633.5C129.7,634.02 130.5,635.3 130.6,636.3C130.7,637.3 130.3,638.85 129.2,639.5C128.1,640.15 125.55,640.03 124,640.2C122.45,640.37 122.02,640.55 119.9,640.5C117.78,640.45 114.62,639.92 111.3,639.9C107.98,639.88 102.3,640.02 100,640.4C97.7,640.78 97.92,641.9 97.5,642.2" fill="none" stroke="#1a1a1a" stroke-width="0.85"/>
<path d="M113.6,637.6C114,637.27 114.93,635.8 116,635.6C117.07,635.4 118.67,636.43 120,636.4C121.33,636.37 122.87,635.37 124,635.4C125.13,635.43 126.72,636.07 126.8,636.6C126.88,637.13 125.63,638.4 124.5,638.6C123.37,638.8 121.42,637.73 120,637.8C118.58,637.87 117.07,639.03 116,639C114.93,638.97 114,637.83 113.6,637.6C113.2,637.37 113.2,637.93 113.6,637.6Z" fill="none" stroke="#1a1a1a" stroke-width="0.85"/>
<path d="M94.9,661.3C95.38,661.7 96.68,663.07 97.8,663.7C98.92,664.33 100,664.78 101.6,665.1C103.2,665.42 105.32,665.68 107.4,665.6C109.48,665.52 111.87,665 114.1,664.6C116.33,664.2 119.05,663.27 120.8,663.2C122.55,663.13 123.32,663.57 124.6,664.2C125.88,664.83 127.53,665.8 128.5,667C129.47,668.2 130,669.23 130.4,671.4C130.8,673.57 130.77,676.82 130.9,680C131.03,683.18 130.97,687.78 131.2,690.5C131.43,693.22 131.8,695.02 132.3,696.3C132.8,697.58 133.88,697.88 134.2,698.2" fill="none" stroke="#1a1a1a" stroke-width="0.85"/>
<path d="M96.3,666.6C96.87,667 98.18,668.53 99.7,669C101.22,669.47 103.48,669.48 105.4,669.4C107.32,669.32 109.6,668.82 111.2,668.5C112.8,668.18 113.8,667.67 115,667.5C116.2,667.33 117.12,667.25 118.4,667.5C119.68,667.75 121.35,668.2 122.7,669C124.05,669.8 125.62,670.78 126.5,672.3C127.38,673.82 127.8,676.02 128,678.1C128.2,680.18 127.7,682.4 127.7,684.8C127.7,687.2 127.72,690.58 128,692.5C128.28,694.42 129.17,695.67 129.4,696.3" fill="none" stroke="#1a1a1a" stroke-width="0.85"/>
<path d="M97.3,671.8C97.7,672.37 98.5,674.63 99.7,675.2C100.9,675.77 102.98,675.43 104.5,675.2C106.02,674.97 107.52,674.2 108.8,673.8C110.08,673.4 110.83,673.13 112.2,672.8C113.57,672.47 115.57,671.63 117,671.8C118.43,671.97 119.68,673 120.8,673.8C121.92,674.6 122.98,675.48 123.7,676.6C124.42,677.72 124.95,678.97 125.1,680.5C125.25,682.03 124.6,684.13 124.6,685.8C124.6,687.47 124.85,689.07 125.1,690.5C125.35,691.93 125.93,693.75 126.1,694.4" fill="none" stroke="#1a1a1a" stroke-width="0.85"/>
<path d="M110.5,678C110.72,676.17 111.25,673.93 112.5,673C113.75,672.07 116.5,671.9 118,672.4C119.5,672.9 120.83,674.4 121.5,676C122.17,677.6 122.25,680.25 122,682C121.75,683.75 121.17,685.63 120,686.5C118.83,687.37 116.47,687.62 115,687.2C113.53,686.78 111.95,685.53 111.2,684C110.45,682.47 110.28,679.83 110.5,678Z" fill="none" stroke="#1a1a1a" stroke-width="0.85"/>
<ellipse cx="114.6" cy="678.8" rx="3.2" ry="4.8" fill="none" stroke="#1a1a1a" stroke-width="0.85"/>
<ellipse cx="104.3" cy="686.7" rx="3.2" ry="2.4" fill="none" stroke="#1a1a1a" stroke-width="0.85"/>
<path d="M106.4,681.9C106.83,682.05 108.2,682.32 109,682.8C109.8,683.28 110.52,683.67 111.2,684.8C111.88,685.93 113.1,688.48 113.1,689.6C113.1,690.72 112.15,691.35 111.2,691.5C110.25,691.65 108.6,690.42 107.4,690.5C106.2,690.58 104.57,691.75 104,692" fill="none" stroke="#1a1a1a" stroke-width="0.85"/>
<path d="M117.5,685C118.12,684.25 119.78,684.08 120.5,684.5C121.22,684.92 121.72,686.33 121.8,687.5C121.88,688.67 121.63,690.7 121,691.5C120.37,692.3 118.7,692.72 118,692.3C117.3,691.88 116.88,690.22 116.8,689C116.72,687.78 116.88,685.75 117.5,685Z" fill="none" stroke="#1a1a1a" stroke-width="0.85"/>
<path d="M98.2,677C98.75,677.42 101.07,678.42 101.5,679.5C101.93,680.58 101.35,682.5 100.8,683.5C100.25,684.5 98.63,685.17 98.2,685.5" fill="none" stroke="#1a1a1a" stroke-width="0.85"/>
<path d="M96.5,668.5C96.92,669.08 97.92,671.48 99,672C100.08,672.52 101.67,671.85 103,671.6C104.33,671.35 105.67,670.8 107,670.5C108.33,670.2 110.33,669.92 111,669.8" fill="none" stroke="#1a1a1a" stroke-width="0.85"/>
<path d="M98,689C98.5,689.42 99.92,690.8 101,691.5C102.08,692.2 103.33,693.02 104.5,693.2C105.67,693.38 107.42,692.7 108,692.6" fill="none" stroke="#1a1a1a" stroke-width="0.85"/>
<path d="M123,678C123.17,678.83 124.03,681.33 124,683C123.97,684.67 122.88,686.33 122.8,688C122.72,689.67 123.38,692.17 123.5,693" fill="none" stroke="#1a1a1a" stroke-width="0.85"/>
<path d="M105.4,698.4C105.58,697.77 104.9,695.28 106.5,694.6C108.1,693.92 111.75,694.3 115,694.3C118.25,694.3 123.17,694.28 126,694.6C128.83,694.92 130.57,695.58 132,696.2C133.43,696.82 134.17,697.95 134.6,698.3" fill="none" stroke="#1a1a1a" stroke-width="0.85"/>
<path d="M107,698.4C103.42,698.05 108.83,696.67 112,696.3C115.17,695.93 122.42,695.85 126,696.2C129.58,696.55 136.67,698.03 133.5,698.4C130.33,698.77 110.58,698.75 107,698.4Z" fill="#555" opacity="0.6"/>
<rect x="95.3" y="692.8" width="10.2" height="5.9" fill="#fff" stroke="#777" stroke-width="0.8"/>
<path d="M153.39,698.3C153.61,697.72 154.44,696.63 154.69,694.8C154.94,692.97 154.83,690.4 154.89,687.3C154.96,684.2 154.87,679.22 155.08,676.2C155.28,673.18 155.59,671.07 156.12,669.2C156.64,667.33 157.44,665.83 158.25,665C159.07,664.17 160.08,664.2 161,664.2C161.92,664.2 162.93,664.17 163.75,665C164.56,665.83 165.36,667.33 165.88,669.2C166.41,671.07 166.72,673.18 166.92,676.2C167.13,679.22 167.04,684.2 167.11,687.3C167.17,690.4 167.06,692.97 167.31,694.8C167.56,696.63 168.39,697.72 168.61,698.3" fill="none" stroke="#222" stroke-width="0.8"/>
<path d="M154.43,698.3C154.64,697.72 155.48,696.63 155.73,694.8C155.98,692.97 155.87,690.13 155.93,687.3C155.98,684.47 155.91,680.55 156.08,677.8C156.25,675.05 156.5,672.67 156.94,670.8C157.38,668.93 158.04,667.43 158.72,666.6C159.39,665.77 160.24,665.8 161,665.8C161.76,665.8 162.61,665.77 163.28,666.6C163.96,667.43 164.62,668.93 165.06,670.8C165.5,672.67 165.75,675.05 165.92,677.8C166.09,680.55 166.02,684.47 166.07,687.3C166.13,690.13 166.02,692.97 166.27,694.8C166.52,696.63 167.36,697.72 167.57,698.3" fill="none" stroke="#333" stroke-width="0.8"/>
<path d="M155.2,698.3C155.42,697.72 156.25,696.63 156.5,694.8C156.75,692.97 156.65,689.87 156.7,687.3C156.75,684.73 156.69,681.88 156.83,679.4C156.97,676.92 157.19,674.27 157.56,672.4C157.93,670.53 158.49,669.03 159.06,668.2C159.64,667.37 160.35,667.4 161,667.4C161.65,667.4 162.36,667.37 162.94,668.2C163.51,669.03 164.07,670.53 164.44,672.4C164.81,674.27 165.03,676.92 165.17,679.4C165.31,681.88 165.25,684.73 165.3,687.3C165.35,689.87 165.25,692.97 165.5,694.8C165.75,696.63 166.58,697.72 166.8,698.3" fill="none" stroke="#444" stroke-width="0.7"/>
<path d="M156.47,698.3C156.61,697.72 157.11,696.63 157.27,694.8C157.44,692.97 157.42,689.63 157.47,687.3C157.52,684.97 157.46,683.05 157.58,680.8C157.7,678.55 157.87,675.67 158.18,673.8C158.48,671.93 158.94,670.43 159.41,669.6C159.88,668.77 160.47,668.8 161,668.8C161.53,668.8 162.12,668.77 162.59,669.6C163.06,670.43 163.52,671.93 163.82,673.8C164.13,675.67 164.3,678.55 164.42,680.8C164.54,683.05 164.48,684.97 164.53,687.3C164.58,689.63 164.56,692.97 164.73,694.8C164.89,696.63 165.39,697.72 165.53,698.3" fill="none" stroke="#111" stroke-width="1.5"/>
<path d="M158.65,698.3C158.7,697.72 158.87,696.63 158.95,694.8C159.03,692.97 159.11,689.27 159.15,687.3C159.19,685.33 159.14,684.88 159.21,683C159.29,681.12 159.39,677.87 159.58,676C159.77,674.13 160.05,672.63 160.33,671.8C160.62,670.97 160.98,671 161.3,671C161.62,671 161.98,670.97 162.27,671.8C162.55,672.63 162.83,674.13 163.02,676C163.21,677.87 163.31,681.12 163.39,683C163.46,684.88 163.41,685.33 163.45,687.3C163.49,689.27 163.57,692.97 163.65,694.8C163.73,696.63 163.9,697.72 163.95,698.3" fill="none" stroke="#333" stroke-width="0.8"/>
</g>
<path d="M393.2,597.6v101.4 M340.4,657h104.3" stroke="#333" stroke-width="1" fill="none"/>
<rect x="340.4" y="597.6" width="104.3" height="101.4" fill="none" stroke="#444" stroke-width="1"/>
<rect x="341.2" y="598.8" width="10.8" height="5.6" fill="#fff" stroke="#666" stroke-width="0.9"/>
<rect x="438.9" y="692.6" width="5" height="5" fill="#fff" stroke="#888" stroke-width="0.8"/>
<path d="M338.4,607.7h2M338.4,615h2M338.4,629.6h2M338.4,637.3h2M338.4,653.6h2M338.4,661.4h2M338.4,677.7h2M338.4,683.7h2M338.4,689.7h2M338.4,694h2M342.4,699v1.6M348.4,699v1.6M352.4,699v1.6M355.4,699v1.6M357.4,699v1.6M365.4,699v1.6M371.4,699v1.6M374.4,699v1.6M376.4,699v1.6M378.4,699v1.6M381.4,699v1.6M387.4,699v1.6M392.4,699v1.6M397.4,699v1.6M402.4,699v1.6M409.4,699v1.6M413.4,699v1.6M417.4,699v1.6M420.4,699v1.6M423.4,699v1.6M428.4,699v1.6M435.4,699v1.6M440.4,699v1.6" stroke="#444" stroke-width="0.8" fill="none"/>
<line x1="104.7" y1="705.6" x2="406" y2="705.6" stroke="#000" stroke-width="2.3"/>
<polygon points="404.2,698.6 421.8,706.6 404.2,714.8" fill="#000"/>
<rect x="126.8" y="550.2" width="21.9" height="21.2" fill="#000"/>
<polygon points="263.85,550.3 274.35,560.8 263.85,571.3 253.35,560.8" fill="#b0b0b0" stroke="#000" stroke-width="2.9" stroke-linejoin="round"/>
<polygon points="390.3,550.3 400.8,560.8 390.3,571.3 379.8,560.8" fill="#fff" stroke="#000" stroke-width="2.9" stroke-linejoin="round"/>
<path d="M117.6,725.8V918.8 M199.2,911.8v6.8 M280.8,911.8v6.8 M362.4,911.8v6.8 M444,911.8v6.8" stroke="#111" stroke-width="1.3" fill="none"/>
<path d="M110.8,912H444" stroke="#333" stroke-width="1.6" fill="none"/>
<path d="M111,725.8h6.6M111,763.1h6.6M111,800.4h6.6M111,837.7h6.6M111,875h6.6" stroke="#111" stroke-width="1.4"/>
<path d="M158.4,885V900.8 M155.8,885h5.2 M155.8,900.8h5.2" stroke="#000" stroke-width="1.3" fill="none"/>
<path d="M321.6,800.5V833.9 M318.4,800.5h6.4 M318.4,833.9h6.4" stroke="#000" stroke-width="1.3" fill="none"/>
<path d="M321.6,850V868 M318.4,850h6.4 M318.4,868h6.4" stroke="#000" stroke-width="1.3" fill="none"/>
<path d="M403.2,826.7V852.7 M400,826.7h6.4 M400,852.7h6.4" stroke="#000" stroke-width="1.3" fill="none"/>
<path d="M403.2,752V787.2 M400,752h6.4 M400,787.2h6.4" stroke="#000" stroke-width="1.3" fill="none"/>
<polyline points="158.4,873 240,853.8 321.6,815.8 403.7,774.5" fill="none" stroke="#000" stroke-width="2.1"/>
<polyline points="158.4,888 240,863 321.6,815.8 403.7,767" fill="none" stroke="#000" stroke-width="2.1"/>
<polyline points="158.4,890.2 240,876.9 321.6,859.2 403.7,839.7" fill="none" stroke="#000" stroke-width="2.1"/>
<rect x="150.4" y="880" width="16" height="16" fill="#000" stroke="none" stroke-width="0"/>
<rect x="232" y="855" width="16" height="16" fill="#000" stroke="none" stroke-width="0"/>
<rect x="313.6" y="807.8" width="16" height="16" fill="#000" stroke="none" stroke-width="0"/>
<rect x="395.7" y="759" width="16" height="16" fill="#000" stroke="none" stroke-width="0"/>
<polygon points="158.4,881.3 167.1,890.2 158.4,899.1 149.7,890.2" fill="#a0a0a0" stroke="#000" stroke-width="1.3"/>
<polygon points="240,868 248.7,876.9 240,885.8 231.3,876.9" fill="#a0a0a0" stroke="#000" stroke-width="1.3"/>
<polygon points="321.6,850.3 330.3,859.2 321.6,868.1 312.9,859.2" fill="#a0a0a0" stroke="#000" stroke-width="1.3"/>
<polygon points="403.7,830.8 412.4,839.7 403.7,848.6 395,839.7" fill="#a0a0a0" stroke="#000" stroke-width="1.3"/>
<polygon points="158.4,864.1 167.1,873 158.4,881.9 149.7,873" fill="#fff" stroke="#000" stroke-width="1.3"/>
<polygon points="240,844.9 248.7,853.8 240,862.7 231.3,853.8" fill="#fff" stroke="#000" stroke-width="1.3"/>
<polygon points="321.6,806.9 330.3,815.8 321.6,824.7 312.9,815.8" fill="#fff" stroke="#000" stroke-width="1.3"/>
<polygon points="403.7,765.6 412.4,774.5 403.7,783.4 395,774.5" fill="#fff" stroke="#000" stroke-width="1.3"/>
<path d="M117.1,1062.5V1215.8 M111,1211H404.2 M188.4,1211v5 M260.2,1211v5 M332.1,1211v5 M404.2,1211v5" stroke="#000" stroke-width="1.5" fill="none"/>
<path d="M111,1062.6h6.1 M111,1112h6.1 M111,1161.4h6.1" stroke="#000" stroke-width="1.5"/>
<path d="M368.1,1068.4V1098 M365.3,1068.4h5.6 M365.3,1098h5.6" stroke="#000" stroke-width="1.1" fill="none"/>
<polyline points="152.4,1185 224.3,1167 296.3,1121.6 368.1,1083" fill="none" stroke="#000" stroke-width="1.5"/>
<polyline points="152.4,1206.3 224.3,1202.5 296.3,1186.2 368.1,1174.7" fill="none" stroke="#000" stroke-width="1.5"/>
<rect x="145.6" y="1178.2" width="13.6" height="13.6" fill="#000" stroke="none" stroke-width="0"/>
<rect x="217.5" y="1160.2" width="13.6" height="13.6" fill="#000" stroke="none" stroke-width="0"/>
<rect x="289.5" y="1114.8" width="13.6" height="13.6" fill="#000" stroke="none" stroke-width="0"/>
<rect x="361.3" y="1076.2" width="13.6" height="13.6" fill="#000" stroke="none" stroke-width="0"/>
<circle cx="152.4" cy="1206.3" r="7.4" fill="#fff" stroke="#000" stroke-width="1.2"/>
<circle cx="224.3" cy="1202.5" r="7.4" fill="#fff" stroke="#000" stroke-width="1.2"/>
<circle cx="296.3" cy="1186.2" r="7.4" fill="#fff" stroke="#000" stroke-width="1.2"/>
<circle cx="368.1" cy="1174.7" r="7.4" fill="#fff" stroke="#000" stroke-width="1.2"/>
<path d="M164.3,1096.4H190.7 M164.3,1116H190.7" stroke="#000" stroke-width="1.4"/>
<rect x="171.9" y="1091.3" width="10.6" height="9.9" fill="#000"/>
<circle cx="177.1" cy="1116" r="4.7" fill="#fff" stroke="#000" stroke-width="1.1"/>
<text style="font-size:27.5px" transform="translate(333.38,25.9) scale(1.01,1)" xml:space="preserve">pBud</text>
<text style="font-size:27.5px" transform="translate(333.18,69.2) scale(1.01,1)" xml:space="preserve">pH60/Surv</text>
<text class="lbl" style="font-size:44.06px" transform="translate(6.11,97.3) scale(1.03,1)">A</text>
<text style="font-size:28px" transform="translate(45.26,127.5) scale(1,1)" xml:space="preserve">No depletion</text>
<text style="font-size:28px" transform="translate(281.36,127.8) scale(1,1)" xml:space="preserve">NK depletion</text>
<text style="font-size:19px" transform="translate(24.09,176) scale(1.08,1)" xml:space="preserve">4226±  43</text>
<text style="font-size:19px" transform="translate(23.23,208.3) scale(1.11,1)" xml:space="preserve">7760±360</text>
<text style="font-size:19px" transform="translate(266.43,176) scale(1.12,1)" xml:space="preserve">5331±22</text>
<text style="font-size:19px" transform="translate(266.42,208) scale(1.12,1)" xml:space="preserve">5703±40</text>
<text style="font-size:28.4px" transform="translate(201.56,310.6) scale(1.01,1)" xml:space="preserve">CD80</text>
<text style="font-size:19px" transform="translate(127.95,370.1) scale(1.12,1)" xml:space="preserve">221±6</text>
<text style="font-size:19px" transform="translate(127.95,401.7) scale(1.11,1)" xml:space="preserve">284±1</text>
<text style="font-size:19px" transform="translate(359.65,369.6) scale(1.11,1)" xml:space="preserve">249±10</text>
<text style="font-size:19px" transform="translate(359.67,394.7) scale(1.09,1)" xml:space="preserve">256±21</text>
<text style="font-size:28.4px" transform="translate(201.57,493.2) scale(1,1)" xml:space="preserve">CD86</text>
<text class="lbl" style="font-size:44.49px" transform="translate(4.09,570.5) scale(0.94,1)">B</text>
<text style="font-size:26.5px" transform="translate(114.76,593.5) scale(1.05,1)" xml:space="preserve">None</text>
<text style="font-size:26.5px" transform="translate(218.07,594.2) scale(1.04,1)" xml:space="preserve">Pre-vac.</text>
<text style="font-size:26.5px" transform="translate(344.35,594.3) scale(1.06,1)" xml:space="preserve">Post-vac.</text>
<text style="font-size:21px" transform="translate(94.86,621) scale(1.01,1)" xml:space="preserve">9.6</text>
<text style="font-size:21px" transform="translate(219.21,621) scale(0.94,1)" xml:space="preserve">9.1</text>
<text style="font-size:21px" transform="translate(341.64,620.6) scale(1.03,1)" xml:space="preserve">8.9</text>
<text style="font-size:20px" transform="translate(175.43,697.5) scale(1.08,1)" xml:space="preserve">22</text>
<text style="font-size:20px" transform="translate(295.46,698.2) scale(1.05,1)" xml:space="preserve">23</text>
<text style="font-size:20px" transform="translate(418.05,698) scale(1.06,1)" xml:space="preserve">22</text>
<text style="font-size:21px" transform="translate(87.1,671.35) rotate(-90) scale(1.01,1)" xml:space="preserve">CD8</text>
<text style="font-size:21px" transform="translate(254.15,729.3) scale(1.01,1)" xml:space="preserve">CD4</text>
<text style="font-size:20.5px" transform="translate(77.77,727.9) scale(1.08,1)" xml:space="preserve">50</text>
<text style="font-size:20.5px" transform="translate(78.68,764.9) scale(1.03,1)" xml:space="preserve">40</text>
<text style="font-size:20.5px" transform="translate(78.01,802.2) scale(1.07,1)" xml:space="preserve">30</text>
<text style="font-size:20.5px" transform="translate(78.12,839.5) scale(1.06,1)" xml:space="preserve">20</text>
<text style="font-size:20.5px" transform="translate(79.56,876.6) scale(0.94,1)" xml:space="preserve">10</text>
<text style="font-size:20.5px" transform="translate(92.79,913.1) scale(1.11,1)" xml:space="preserve">0</text>
<text style="font-size:21px" transform="translate(65.2,888.13) rotate(-90) scale(1,1)" xml:space="preserve">% specific lysis</text>
<text style="font-size:20.5px" transform="translate(131,952.8) scale(0.98,1)" xml:space="preserve">12.5:1</text>
<text style="font-size:20.5px" transform="translate(220.09,952.8) scale(0.99,1)" xml:space="preserve">25:1</text>
<text style="font-size:20.5px" transform="translate(302.13,952.8) scale(1.03,1)" xml:space="preserve">50:1</text>
<text style="font-size:20.5px" transform="translate(378.34,952.8) scale(1.01,1)" xml:space="preserve">100:1</text>
<text style="font-size:21px" transform="translate(249.25,982.7) scale(1.03,1)" xml:space="preserve">E/T</text>
<text class="lbl" style="font-size:44.93px" transform="translate(2.34,1062.45) scale(0.92,1)">C</text>
<text style="font-size:17.7px" transform="translate(83.04,1070.7) scale(1.08,1)" xml:space="preserve">30</text>
<text style="font-size:17.7px" transform="translate(83.14,1120.1) scale(1.07,1)" xml:space="preserve">20</text>
<text style="font-size:17.7px" transform="translate(84.11,1169.7) scale(1,1)" xml:space="preserve">10</text>
<text style="font-size:17.7px" transform="translate(92.34,1219.5) scale(1.08,1)" xml:space="preserve">0</text>
<text style="font-size:20.5px" transform="translate(126.77,1072.2) scale(1.02,1)" xml:space="preserve">In vivo depletion</text>
<text style="font-size:16.8px" transform="translate(195.29,1102.6) scale(1.01,1)" xml:space="preserve">None</text>
<text style="font-size:16.8px" transform="translate(195.12,1122.5) scale(1.01,1)" xml:space="preserve">CD8</text>
<text style="font-size:17.5px" transform="translate(69.4,1187.21) rotate(-90) scale(1,1)" xml:space="preserve">% specific lysis</text>
<text style="font-size:17.7px" transform="translate(129.04,1246.7) scale(0.98,1)" xml:space="preserve">12.5:1</text>
<text style="font-size:17.7px" transform="translate(208.13,1246.7) scale(0.97,1)" xml:space="preserve">25:1</text>
<text style="font-size:17.7px" transform="translate(279.23,1245.5) scale(1,1)" xml:space="preserve">50:1</text>
<text style="font-size:17.7px" transform="translate(346.61,1245.5) scale(1,1)" xml:space="preserve">100:1</text>
<text style="font-size:21px" transform="translate(243.17,1276.8) scale(1,1)" xml:space="preserve">E/T</text>
<path d="M116.07,194.4L117.06,190.01L114.64,190.01L115.63,194.4ZM114.64,190.01a1.21,1.21 0 1,0 2.42,0a1.21,1.21 0 1,0 -2.42,0ZM115.63,194.4L114.64,198.79L117.06,198.79L116.07,194.4ZM114.64,198.79a1.21,1.21 0 1,0 2.42,0a1.21,1.21 0 1,0 -2.42,0ZM115.96,194.59L120.5,193.11L119.29,191.02L115.74,194.21ZM118.69,192.07a1.21,1.21 0 1,0 2.42,0a1.21,1.21 0 1,0 -2.42,0ZM115.74,194.59L119.29,197.78L120.5,195.69L115.96,194.21ZM118.69,196.73a1.21,1.21 0 1,0 2.42,0a1.21,1.21 0 1,0 -2.42,0ZM115.74,194.21L111.2,195.69L112.41,197.78L115.96,194.59ZM110.6,196.73a1.21,1.21 0 1,0 2.42,0a1.21,1.21 0 1,0 -2.42,0ZM115.96,194.21L112.41,191.02L111.2,193.11L115.74,194.59ZM110.6,192.07a1.21,1.21 0 1,0 2.42,0a1.21,1.21 0 1,0 -2.42,0Z" fill="#000"/>
<path d="M348.92,194.75L349.9,190.5L347.5,190.5L348.48,194.75ZM347.5,190.5a1.2,1.2 0 1,0 2.39,0a1.2,1.2 0 1,0 -2.39,0ZM348.48,194.75L347.5,199L349.9,199L348.92,194.75ZM347.5,199a1.2,1.2 0 1,0 2.39,0a1.2,1.2 0 1,0 -2.39,0ZM348.81,194.94L353.3,193.47L352.11,191.4L348.59,194.56ZM351.51,192.44a1.2,1.2 0 1,0 2.39,0a1.2,1.2 0 1,0 -2.39,0ZM348.59,194.94L352.11,198.1L353.3,196.03L348.81,194.56ZM351.51,197.06a1.2,1.2 0 1,0 2.39,0a1.2,1.2 0 1,0 -2.39,0ZM348.59,194.56L344.1,196.03L345.29,198.1L348.81,194.94ZM343.5,197.06a1.2,1.2 0 1,0 2.39,0a1.2,1.2 0 1,0 -2.39,0ZM348.81,194.56L345.29,191.4L344.1,193.47L348.59,194.94ZM343.5,192.44a1.2,1.2 0 1,0 2.39,0a1.2,1.2 0 1,0 -2.39,0Z" fill="#000"/>
<path d="M362.67,194.75L363.63,190.48L361.27,190.48L362.23,194.75ZM361.27,190.48a1.18,1.18 0 1,0 2.37,0a1.18,1.18 0 1,0 -2.37,0ZM362.23,194.75L361.27,199.02L363.63,199.02L362.67,194.75ZM361.27,199.02a1.18,1.18 0 1,0 2.37,0a1.18,1.18 0 1,0 -2.37,0ZM362.56,194.94L367.01,193.49L365.82,191.43L362.34,194.56ZM365.23,192.46a1.18,1.18 0 1,0 2.37,0a1.18,1.18 0 1,0 -2.37,0ZM362.34,194.94L365.82,198.07L367.01,196.01L362.56,194.56ZM365.23,197.04a1.18,1.18 0 1,0 2.37,0a1.18,1.18 0 1,0 -2.37,0ZM362.34,194.56L357.89,196.01L359.08,198.07L362.56,194.94ZM357.3,197.04a1.18,1.18 0 1,0 2.37,0a1.18,1.18 0 1,0 -2.37,0ZM362.56,194.56L359.08,191.43L357.89,193.49L362.34,194.94ZM357.3,192.46a1.18,1.18 0 1,0 2.37,0a1.18,1.18 0 1,0 -2.37,0Z" fill="#000"/>
<path d="M189.92,387.95L190.87,383.37L188.53,383.37L189.48,387.95ZM188.53,383.37a1.17,1.17 0 1,0 2.35,0a1.17,1.17 0 1,0 -2.35,0ZM189.48,387.95L188.53,392.53L190.87,392.53L189.92,387.95ZM188.53,392.53a1.17,1.17 0 1,0 2.35,0a1.17,1.17 0 1,0 -2.35,0ZM189.81,388.14L194.21,386.7L193.04,384.67L189.59,387.76ZM192.45,385.68a1.17,1.17 0 1,0 2.35,0a1.17,1.17 0 1,0 -2.35,0ZM189.59,388.14L193.04,391.23L194.21,389.2L189.81,387.76ZM192.45,390.22a1.17,1.17 0 1,0 2.35,0a1.17,1.17 0 1,0 -2.35,0ZM189.59,387.76L185.19,389.2L186.36,391.23L189.81,388.14ZM184.6,390.22a1.17,1.17 0 1,0 2.35,0a1.17,1.17 0 1,0 -2.35,0ZM189.81,387.76L186.36,384.67L185.19,386.7L189.59,388.14ZM184.6,385.68a1.17,1.17 0 1,0 2.35,0a1.17,1.17 0 1,0 -2.35,0Z" fill="#000"/>
<path d="M333.12,883L334.07,878.17L331.73,878.17L332.68,883ZM331.73,878.17a1.17,1.17 0 1,0 2.35,0a1.17,1.17 0 1,0 -2.35,0ZM332.68,883L331.73,887.83L334.07,887.83L333.12,883ZM331.73,887.83a1.17,1.17 0 1,0 2.35,0a1.17,1.17 0 1,0 -2.35,0ZM333.01,883.19L337.41,881.75L336.24,879.72L332.79,882.81ZM335.65,880.73a1.17,1.17 0 1,0 2.35,0a1.17,1.17 0 1,0 -2.35,0ZM332.79,883.19L336.24,886.28L337.41,884.25L333.01,882.81ZM335.65,885.27a1.17,1.17 0 1,0 2.35,0a1.17,1.17 0 1,0 -2.35,0ZM332.79,882.81L328.39,884.25L329.56,886.28L333.01,883.19ZM327.8,885.27a1.17,1.17 0 1,0 2.35,0a1.17,1.17 0 1,0 -2.35,0ZM333.01,882.81L329.56,879.72L328.39,881.75L332.79,883.19ZM327.8,880.73a1.17,1.17 0 1,0 2.35,0a1.17,1.17 0 1,0 -2.35,0Z" fill="#000"/>
<path d="M424.72,857.6L425.79,852.89L423.21,852.89L424.28,857.6ZM423.21,852.89a1.29,1.29 0 1,0 2.58,0a1.29,1.29 0 1,0 -2.58,0ZM424.28,857.6L423.21,862.31L425.79,862.31L424.72,857.6ZM423.21,862.31a1.29,1.29 0 1,0 2.58,0a1.29,1.29 0 1,0 -2.58,0ZM424.61,857.79L429.46,856.23L428.17,854L424.39,857.41ZM427.52,855.11a1.29,1.29 0 1,0 2.58,0a1.29,1.29 0 1,0 -2.58,0ZM424.39,857.79L428.17,861.2L429.46,858.97L424.61,857.41ZM427.52,860.09a1.29,1.29 0 1,0 2.58,0a1.29,1.29 0 1,0 -2.58,0ZM424.39,857.41L419.54,858.97L420.83,861.2L424.61,857.79ZM418.9,860.09a1.29,1.29 0 1,0 2.58,0a1.29,1.29 0 1,0 -2.58,0ZM424.61,857.41L420.83,854L419.54,856.23L424.39,857.79ZM418.9,855.11a1.29,1.29 0 1,0 2.58,0a1.29,1.29 0 1,0 -2.58,0Z" fill="#000"/>
<path d="M169.32,1200.55L170.34,1196.04L167.86,1196.04L168.88,1200.55ZM167.86,1196.04a1.24,1.24 0 1,0 2.48,0a1.24,1.24 0 1,0 -2.48,0ZM168.88,1200.55L167.86,1205.06L170.34,1205.06L169.32,1200.55ZM167.86,1205.06a1.24,1.24 0 1,0 2.48,0a1.24,1.24 0 1,0 -2.48,0ZM169.21,1200.74L173.88,1199.22L172.64,1197.07L168.99,1200.36ZM172.02,1198.15a1.24,1.24 0 1,0 2.48,0a1.24,1.24 0 1,0 -2.48,0ZM168.99,1200.74L172.64,1204.03L173.88,1201.88L169.21,1200.36ZM172.02,1202.95a1.24,1.24 0 1,0 2.48,0a1.24,1.24 0 1,0 -2.48,0ZM168.99,1200.36L164.32,1201.88L165.56,1204.03L169.21,1200.74ZM163.7,1202.95a1.24,1.24 0 1,0 2.48,0a1.24,1.24 0 1,0 -2.48,0ZM169.21,1200.36L165.56,1197.07L164.32,1199.22L168.99,1200.74ZM163.7,1198.15a1.24,1.24 0 1,0 2.48,0a1.24,1.24 0 1,0 -2.48,0Z" fill="#000"/>
<path d="M240.67,1190.25L241.77,1185.82L239.13,1185.82L240.23,1190.25ZM239.13,1185.82a1.32,1.32 0 1,0 2.65,0a1.32,1.32 0 1,0 -2.65,0ZM240.23,1190.25L239.13,1194.68L241.77,1194.68L240.67,1190.25ZM239.13,1194.68a1.32,1.32 0 1,0 2.65,0a1.32,1.32 0 1,0 -2.65,0ZM240.56,1190.44L245.54,1188.84L244.22,1186.55L240.34,1190.06ZM243.56,1187.69a1.32,1.32 0 1,0 2.65,0a1.32,1.32 0 1,0 -2.65,0ZM240.34,1190.44L244.22,1193.95L245.54,1191.66L240.56,1190.06ZM243.56,1192.81a1.32,1.32 0 1,0 2.65,0a1.32,1.32 0 1,0 -2.65,0ZM240.34,1190.06L235.36,1191.66L236.68,1193.95L240.56,1190.44ZM234.7,1192.81a1.32,1.32 0 1,0 2.65,0a1.32,1.32 0 1,0 -2.65,0ZM240.56,1190.06L236.68,1186.55L235.36,1188.84L240.34,1190.44ZM234.7,1187.69a1.32,1.32 0 1,0 2.65,0a1.32,1.32 0 1,0 -2.65,0Z" fill="#000"/>
<path d="M308.17,1174.75L309.27,1170.32L306.63,1170.32L307.73,1174.75ZM306.63,1170.32a1.32,1.32 0 1,0 2.65,0a1.32,1.32 0 1,0 -2.65,0ZM307.73,1174.75L306.63,1179.18L309.27,1179.18L308.17,1174.75ZM306.63,1179.18a1.32,1.32 0 1,0 2.65,0a1.32,1.32 0 1,0 -2.65,0ZM308.06,1174.94L313.04,1173.34L311.72,1171.05L307.84,1174.56ZM311.06,1172.19a1.32,1.32 0 1,0 2.65,0a1.32,1.32 0 1,0 -2.65,0ZM307.84,1174.94L311.72,1178.45L313.04,1176.16L308.06,1174.56ZM311.06,1177.31a1.32,1.32 0 1,0 2.65,0a1.32,1.32 0 1,0 -2.65,0ZM307.84,1174.56L302.86,1176.16L304.18,1178.45L308.06,1174.94ZM302.2,1177.31a1.32,1.32 0 1,0 2.65,0a1.32,1.32 0 1,0 -2.65,0ZM308.06,1174.56L304.18,1171.05L302.86,1173.34L307.84,1174.94ZM302.2,1172.19a1.32,1.32 0 1,0 2.65,0a1.32,1.32 0 1,0 -2.65,0Z" fill="#000"/>
<path d="M381.67,1159.35L382.63,1154.78L380.27,1154.78L381.23,1159.35ZM380.27,1154.78a1.18,1.18 0 1,0 2.37,0a1.18,1.18 0 1,0 -2.37,0ZM381.23,1159.35L380.27,1163.92L382.63,1163.92L381.67,1159.35ZM380.27,1163.92a1.18,1.18 0 1,0 2.37,0a1.18,1.18 0 1,0 -2.37,0ZM381.56,1159.54L386.01,1158.09L384.82,1156.03L381.34,1159.16ZM384.23,1157.06a1.18,1.18 0 1,0 2.37,0a1.18,1.18 0 1,0 -2.37,0ZM381.34,1159.54L384.82,1162.67L386.01,1160.61L381.56,1159.16ZM384.23,1161.64a1.18,1.18 0 1,0 2.37,0a1.18,1.18 0 1,0 -2.37,0ZM381.34,1159.16L376.89,1160.61L378.08,1162.67L381.56,1159.54ZM376.3,1161.64a1.18,1.18 0 1,0 2.37,0a1.18,1.18 0 1,0 -2.37,0ZM381.56,1159.16L378.08,1156.03L376.89,1158.09L381.34,1159.54ZM376.3,1157.06a1.18,1.18 0 1,0 2.37,0a1.18,1.18 0 1,0 -2.37,0Z" fill="#000"/>
</svg>
</body></html>
